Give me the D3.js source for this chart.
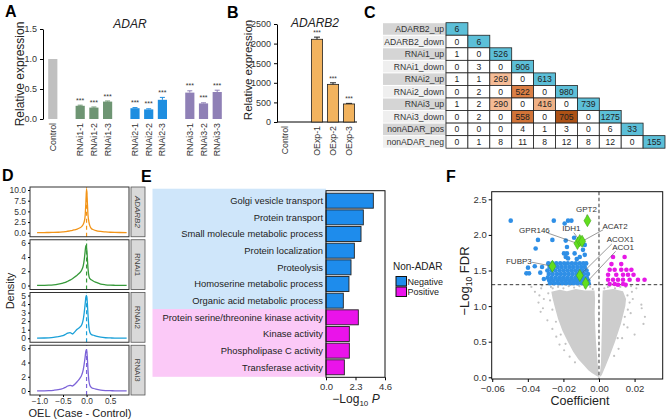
<!DOCTYPE html>
<html><head><meta charset="utf-8">
<script src="https://cdn.jsdelivr.net/npm/d3@7"></script>
<style>
body{margin:0;background:#fff;}
svg{font-family:"Liberation Sans",Arial,Helvetica,sans-serif;}
</style></head><body>
<svg id="fig" width="669" height="419"></svg>
<script>
// ---------------- DATA ----------------
// Panel A
const adarCats = ["Control","RNAi1-1","RNAi1-2","RNAi1-3","RNAi2-1","RNAi2-2","RNAi2-3","RNAi3-1","RNAi3-2","RNAi3-3"];
const adarVals = [1.0,0.22,0.19,0.29,0.18,0.16,0.32,0.44,0.26,0.45];
const adarErr  = [0,0.01,0.01,0.01,0.01,0.01,0.04,0.03,0.01,0.03];
const adarGroup = ["Control","RNAi1","RNAi1","RNAi1","RNAi2","RNAi2","RNAi2","RNAi3","RNAi3","RNAi3"];
const adarSig = ["","***","***","***","***","***","***","***","***","***"];
const adarTicks = [0,0.5,1.0,1.5];
// Panel B
const b2Cats = ["Control","OExp-1","OExp-2","OExp-3"];
const b2Vals = [1,2110,960,460];
const b2Err  = [0,55,40,15];
const b2Sig  = ["","***","***","***"];
const b2Ticks = [0,500,1000,1500,2000,2500];
// Panel C
const ovLabels = ["ADARB2_up","ADARB2_down","RNAi1_up","RNAi1_down","RNAi2_up","RNAi2_down","RNAi3_up","RNAi3_down","nonADAR_pos","nonADAR_neg"];
const ovMatrix = [
  [6],
  [0,6],
  [1,0,526],
  [0,3,0,906],
  [1,1,269,0,613],
  [0,2,0,522,0,980],
  [1,2,290,0,416,0,739],
  [0,2,0,558,0,705,0,1275],
  [0,0,0,4,1,3,0,6,33],
  [0,1,8,11,8,12,8,12,0,155]
];
// Panel D
const oelGroups = ["ADARB2","RNAi1","RNAi2","RNAi3"];
const oelX = [-1.05,-0.9,-0.8,-0.7,-0.6,-0.5,-0.45,-0.4,-0.35,-0.3,-0.25,-0.2,-0.15,-0.1,-0.07,-0.05,-0.03,-0.015,0,0.015,0.03,0.05,0.07,0.1,0.15,0.2,0.3,0.4,0.5,0.6,0.7,0.85];
const oelADARB2 = [0.05,0.05,0.06,0.08,0.12,0.2,0.25,0.35,0.45,0.55,0.7,0.85,1.1,1.5,2.0,2.6,4.0,7.0,10.3,7.5,4.2,2.5,1.6,1.0,0.7,0.5,0.3,0.2,0.12,0.08,0.06,0.05];
const oelRNAi1  = [0.02,0.03,0.05,0.1,0.2,0.35,0.45,0.6,0.75,0.95,1.2,1.45,1.75,2.2,2.8,3.6,4.8,5.6,5.3,4.0,2.4,1.3,0.95,0.8,0.6,0.45,0.2,0.1,0.05,0.03,0.02,0.02];
const oelRNAi2  = [0.02,0.03,0.05,0.1,0.2,0.3,0.45,0.6,0.65,0.5,0.75,1.05,1.25,1.6,2.2,3.0,4.0,4.8,5.0,4.2,2.8,1.3,0.7,0.45,0.35,0.25,0.12,0.06,0.04,0.02,0.02,0.02];
const oelRNAi3  = [0.02,0.03,0.05,0.1,0.18,0.35,0.5,0.7,0.8,0.7,0.95,1.3,1.7,2.3,3.0,3.8,4.8,5.6,5.8,4.8,3.0,1.4,0.8,0.5,0.35,0.25,0.12,0.06,0.04,0.03,0.02,0.02];
const oelTicks = [[0,2.5,5,7.5,10],[0,2,4,6],[0,1,2,3,4,5],[0,2,4,6]];
const oelXTicks = [-1.0,-0.5,0.0,0.5];
// Panel E
const goTerms = ["Golgi vesicle transport","Protein transport","Small molecule metabolic process","Protein localization","Proteolysis","Homoserine metabolic process","Organic acid metabolic process","Protein serine/threonine kinase activity","Kinase activity","Phospholipase C activity","Transferase activity"];
const goVals = [3.69,2.91,2.73,2.21,1.95,1.79,1.35,2.52,1.82,1.82,1.43];
const goType = ["Negative","Negative","Negative","Negative","Negative","Negative","Negative","Positive","Positive","Positive","Positive"];
const goTicks = [0,2.3,4.6];
// Panel F
const negPts = [
 [-0.0496,2.20],[-0.0254,2.20],[-0.0174,2.20],[-0.0155,2.20],[-0.0193,2.16],
 [-0.0343,1.93],[-0.0262,1.93],[-0.0187,1.92],[-0.0140,1.96],[-0.0180,1.83],[-0.0356,1.81],
 [-0.0090,1.79],[-0.0080,1.86],[-0.0197,1.74],[-0.0180,1.74],[-0.0137,1.74],[-0.0080,1.72],
 [-0.0187,1.69],[-0.0108,1.69],[-0.0174,1.67],[-0.0125,1.66],
 [-0.0399,1.54],[-0.0408,1.46],[-0.0393,1.46],[-0.0361,1.56],[-0.0330,1.47],[-0.0310,1.38],[-0.0320,1.55],
 [-0.0285,1.60],[-0.0262,1.60],[-0.0240,1.60],[-0.0218,1.60],[-0.0196,1.60],[-0.0175,1.60],[-0.0152,1.60],[-0.0130,1.60],[-0.0108,1.60],[-0.0088,1.60],[-0.0072,1.60],
 [-0.0278,1.55],[-0.0255,1.55],[-0.0232,1.55],[-0.0210,1.55],[-0.0188,1.55],[-0.0166,1.55],[-0.0145,1.55],[-0.0122,1.55],[-0.0100,1.55],[-0.0080,1.55],
 [-0.0290,1.50],[-0.0268,1.50],[-0.0245,1.50],[-0.0222,1.50],[-0.0200,1.50],[-0.0178,1.50],[-0.0156,1.50],[-0.0134,1.50],[-0.0112,1.50],[-0.0092,1.50],[-0.0070,1.50],
 [-0.0282,1.45],[-0.0260,1.45],[-0.0236,1.45],[-0.0214,1.45],[-0.0192,1.45],[-0.0170,1.45],[-0.0148,1.45],[-0.0126,1.45],[-0.0104,1.45],[-0.0084,1.45],[-0.0062,1.45],
 [-0.0288,1.40],[-0.0266,1.40],[-0.0243,1.40],[-0.0220,1.40],[-0.0198,1.40],[-0.0176,1.40],[-0.0154,1.40],[-0.0132,1.40],[-0.0110,1.40],[-0.0090,1.40],[-0.0068,1.40],
 [-0.0280,1.36],[-0.0258,1.36],[-0.0234,1.36],[-0.0212,1.36],[-0.0190,1.36],[-0.0168,1.36],[-0.0146,1.36],[-0.0124,1.36],[-0.0102,1.36],[-0.0082,1.36],[-0.0060,1.36],
 [-0.0275,1.32],[-0.0252,1.32],[-0.0230,1.32],[-0.0207,1.32],[-0.0185,1.32],[-0.0163,1.32],[-0.0141,1.32],[-0.0119,1.32],[-0.0097,1.32],[-0.0077,1.32],[-0.0058,1.32]
];
const posPts = [
 [0.0079,1.69],[0.0144,1.69],[0.0070,1.59],[0.0125,1.59],
 [0.0060,1.51],[0.0088,1.51],[0.0125,1.51],[0.0154,1.51],[0.0182,1.51],
 [0.0051,1.44],[0.0097,1.44],[0.0135,1.44],[0.0163,1.44],[0.0194,1.44],
 [0.0051,1.37],[0.0079,1.37],[0.0107,1.37],[0.0135,1.37],[0.0172,1.37],[0.0219,1.37],[0.0256,1.37],
 [0.0060,1.31],[0.0088,1.31],[0.0107,1.30],[0.0135,1.31],[0.0150,1.30]
];
const hitGenes = ["GPT2","GPR146","IDH1","ACAT2","FUBP3","ACOX1","ACO1"];
const hitX = [-0.0065,-0.0121,-0.0108,-0.0095,-0.0262,-0.0108,-0.0075];
const hitY = [2.20,1.88,1.92,1.91,1.56,1.43,1.32];
const grayLeft = [[0,0],[-0.002,0.03],[-0.004,0.06],[-0.006,0.10],[-0.0085,0.17],[-0.0115,0.25],[-0.0145,0.36],[-0.0175,0.5],[-0.0205,0.65],[-0.023,0.82],[-0.025,1.0],[-0.0262,1.12],[-0.0268,1.2],
 [-0.022,1.23],[-0.018,1.21],[-0.013,1.24],[-0.008,1.22],[-0.0025,1.22],[-0.0022,1.1],[-0.0024,0.9],[-0.0021,0.7],[-0.0017,0.5],[-0.0011,0.3],[-0.0005,0.12],[0,0]];
const grayRight = [[0.0003,0],[0.0011,0.2],[0.0014,0.5],[0.0017,0.8],[0.0019,1.1],[0.0021,1.22],[0.008,1.24],[0.0135,1.21],[0.0152,1.1],[0.0148,1.0],[0.0123,0.75],[0.009,0.5],[0.006,0.3],[0.0036,0.15],[0.0015,0.03]];
const grayPts = [[-0.0328,0.92],[-0.0315,0.97],[-0.0340,1.05],[-0.0335,1.15],[-0.0325,1.25],[-0.0360,1.20],[-0.0380,1.27],[-0.0290,0.80],[-0.0262,0.68],[-0.0240,0.57],[-0.0222,0.46],[-0.0196,0.38],[-0.0165,0.29],[-0.0135,0.21],[-0.0310,1.10],[-0.0320,1.29],[-0.0270,1.27],
 [0.0238,1.02],[0.0240,0.97],[0.0258,0.85],[0.0250,0.75],[0.0190,1.10],[0.0185,1.20],[0.0210,1.25],[0.0178,0.90],[0.0160,0.70],[0.0130,0.55],[0.0110,0.40],[0.0085,0.30],[0.0200,0.60],[0.0180,1.28],[0.0050,1.27],[0.0100,1.29],[0.0150,1.27],[0.0172,1.05],[0.0145,0.85],
 [-0.0260,1.25],[-0.0230,1.27],[-0.0200,1.25],[-0.0170,1.28],[-0.0140,1.26],[-0.0110,1.28],[-0.0080,1.26],[-0.0050,1.27],[-0.0035,1.24],[0.0030,1.25],[0.0060,1.28],[0.0090,1.25],[0.0120,1.27],
 [-0.0285,1.18],[-0.0275,1.08],[-0.0262,0.95],[-0.0242,0.78],[-0.0215,0.60],[-0.0188,0.47],[0.0160,1.15],[0.0162,0.95],[0.0140,0.74],[0.0105,0.55]];

// ---------------- DRAW ----------------
const svg = d3.select("#fig");
const TXT = "#333";

function styleAxis(g, fs){
  g.selectAll("path.domain").attr("stroke","#000").attr("stroke-width",1);
  g.selectAll(".tick line").attr("stroke","#000");
  g.selectAll(".tick text").attr("font-size",fs).attr("fill",TXT).attr("font-family",null);
}
function panelLabel(t,x,y){ svg.append("text").attr("x",x).attr("y",y).attr("font-size",16).attr("font-weight","bold").text(t); }
panelLabel("A",5,17); panelLabel("B",227,18); panelLabel("C",364,18);
panelLabel("D",2,181); panelLabel("E",141,182); panelLabel("F",446,182);

// ----- Panel A -----
const aSlots = ["Control","_s1","RNAi1-1","RNAi1-2","RNAi1-3","_s2","RNAi2-1","RNAi2-2","RNAi2-3","_s3","RNAi3-1","RNAi3-2","RNAi3-3"];
const ax = d3.scaleBand().domain(aSlots).range([46,224]).paddingInner(0.33).paddingOuter(0.16);
const ay = d3.scaleLinear().domain([0,1.5]).range([119,29]);
const aColor = d3.scaleOrdinal().domain(["Control","RNAi1","RNAi2","RNAi3"]).range(["#c0c0c0","#6e9573","#1e8ee0","#8f80b6"]);
const gA = svg.append("g");
gA.append("g").attr("transform","translate(43,0)")
  .call(d3.axisLeft(ay).tickValues(adarTicks).tickFormat(d3.format(".1f")).tickSize(3).tickSizeOuter(0))
  .call(g=>styleAxis(g,9));
adarCats.forEach((c,i)=>{
  const x0 = ax(c), w = ax.bandwidth(), col = aColor(adarGroup[i]);
  gA.append("rect").attr("x",x0).attr("y",ay(adarVals[i])).attr("width",w).attr("height",ay(0)-ay(adarVals[i])).attr("fill",col);
  if(adarErr[i]>0){
    const cx = x0+w/2;
    gA.append("line").attr("x1",cx).attr("x2",cx).attr("y1",ay(adarVals[i])).attr("y2",ay(adarVals[i]+adarErr[i])).attr("stroke",col).attr("stroke-width",1);
    gA.append("line").attr("x1",cx-2.5).attr("x2",cx+2.5).attr("y1",ay(adarVals[i]+adarErr[i])).attr("y2",ay(adarVals[i]+adarErr[i])).attr("stroke",col).attr("stroke-width",1);
  }
  gA.append("text").attr("x",x0+w/2).attr("y",ay(adarVals[i]+adarErr[i])-2.5).attr("text-anchor","middle").attr("font-size",7).attr("fill",TXT).text(adarSig[i]);
  gA.append("text").attr("transform",`translate(${x0+w/2+3},123) rotate(-90)`).attr("text-anchor","end").attr("font-size",8.8).attr("fill",TXT).text(c);
});
gA.append("text").attr("x",130).attr("y",28).attr("text-anchor","middle").attr("font-size",12).attr("font-style","italic").attr("fill","#222").text("ADAR");
gA.append("text").attr("transform","translate(24,74) rotate(-90)").attr("text-anchor","middle").attr("font-size",12).attr("fill","#222").text("Relative expression");

// ----- Panel B -----
const bSlots = ["Control","_s1","OExp-1","OExp-2","OExp-3"];
const bx = d3.scaleBand().domain(bSlots).range([277,357]).paddingInner(0.3).paddingOuter(0.15);
const by = d3.scaleLinear().domain([0,2500]).range([122,24]);
const gB = svg.append("g");
gB.append("g").attr("transform","translate(277,0)")
  .call(d3.axisLeft(by).tickValues(b2Ticks).tickFormat(d3.format("d")).tickSize(3).tickSizeOuter(0))
  .call(g=>styleAxis(g,9));
gB.append("line").attr("x1",277).attr("x2",357).attr("y1",by(0)).attr("y2",by(0)).attr("stroke","#000");
b2Cats.forEach((c,i)=>{
  const x0 = bx(c), w = bx.bandwidth(), cx = x0+w/2;
  if(b2Vals[i]>10){
    gB.append("rect").attr("x",x0).attr("y",by(b2Vals[i])).attr("width",w).attr("height",by(0)-by(b2Vals[i])).attr("fill","#f2b35e").attr("stroke","#222").attr("stroke-width",0.8);
    gB.append("line").attr("x1",cx).attr("x2",cx).attr("y1",by(b2Vals[i])).attr("y2",by(b2Vals[i]+b2Err[i])).attr("stroke","#222");
    gB.append("line").attr("x1",cx-3).attr("x2",cx+3).attr("y1",by(b2Vals[i]+b2Err[i])).attr("y2",by(b2Vals[i]+b2Err[i])).attr("stroke","#222");
  }
  gB.append("text").attr("x",cx).attr("y",by(b2Vals[i]+b2Err[i])-2).attr("text-anchor","middle").attr("font-size",6.5).attr("fill",TXT).text(b2Sig[i]);
  gB.append("text").attr("transform",`translate(${cx+3},126) rotate(-90)`).attr("text-anchor","end").attr("font-size",8.8).attr("fill",TXT).text(c);
});
gB.append("text").attr("x",315).attr("y",26.5).attr("text-anchor","middle").attr("font-size",12).attr("font-style","italic").attr("fill","#222").text("ADARB2");
gB.append("text").attr("transform","translate(252,70) rotate(-90)").attr("text-anchor","middle").attr("font-size",11.5).attr("fill","#222").text("Relative expression");

// ----- Panel C -----
const cRow = d3.scaleBand().domain(ovLabels).range([22.7,148.2]);
const cCol = d3.scaleBand().domain(ovLabels).range([446,665]);
const orange = d3.scaleLinear().domain([260,450,530,705]).range(["#f5bd98","#efae82","#d97a3e","#ad5216"]);
const gC = svg.append("g");
ovLabels.forEach((lab,i)=>{
  const y0 = cRow(lab), h = cRow.bandwidth();
  gC.append("rect").attr("x",383).attr("y",y0+0.5).attr("width",63).attr("height",h-1).attr("fill", i%2===0 ? "#d5d5d5" : "#efefef");
  gC.append("text").attr("x",444).attr("y",y0+h/2).attr("dy","0.35em").attr("text-anchor","end").attr("font-size",8.6).attr("fill",TXT).text(lab);
  ovMatrix[i].forEach((v,j)=>{
    const x0 = cCol(ovLabels[j]);
    let fill = "#ffffff";
    if(i===j) fill = "#5cbfd8";
    else if(v>=200) fill = orange(v);
    gC.append("rect").attr("x",x0).attr("y",y0).attr("width",cCol.bandwidth()).attr("height",h).attr("fill",fill).attr("stroke","#222").attr("stroke-width",0.8);
    gC.append("text").attr("x",x0+cCol.bandwidth()/2).attr("y",y0+h/2).attr("dy","0.35em").attr("text-anchor","middle").attr("font-size",8.6).attr("fill","#222").text(v);
  });
});

// ----- Panel D -----
const oelY = [oelADARB2,oelRNAi1,oelRNAi2,oelRNAi3];
const oelColors = ["#f29418","#36993a","#1aa0d8","#7c63d8"];
const dTop=187, dBot=395, dGap=3, dH=(dBot-dTop-3*dGap)/4;
const dx = d3.scaleLinear().domain([-1.2,0.9]).range([30,129]);
const gD = svg.append("g");
oelGroups.forEach((grp,i)=>{
  const top = dTop + i*(dH+dGap), bot = top+dH;
  const ticks = oelTicks[i];
  const y = d3.scaleLinear().domain([0,ticks[ticks.length-1]]).range([bot-4, top+3]);
  const clipId = "dclip"+i;
  gD.append("clipPath").attr("id",clipId).append("rect").attr("x",30).attr("y",top).attr("width",99).attr("height",dH);
  const pts = oelX.map((xv,k)=>[xv,oelY[i][k]]);
  gD.append("path").attr("clip-path",`url(#${clipId})`).attr("d", d3.line().x(d=>dx(d[0])).y(d=>y(d[1])).curve(d3.curveMonotoneX)(pts))
    .attr("fill","none").attr("stroke",oelColors[i]).attr("stroke-width",1.3);
  gD.append("line").attr("x1",dx(0)).attr("x2",dx(0)).attr("y1",bot).attr("y2",top).attr("stroke",oelColors[i]).attr("stroke-width",1.2).attr("stroke-dasharray","4,3");
  gD.append("rect").attr("x",30).attr("y",top).attr("width",99).attr("height",dH).attr("fill","none").attr("stroke","#333").attr("stroke-width",1);
  gD.append("g").attr("transform","translate(30,0)")
    .call(d3.axisLeft(y).tickValues(ticks).tickFormat(i===0?d3.format(".1f"):d3.format("d")).tickSize(2).tickPadding(2).tickSizeOuter(0))
    .call(g=>{ g.select("path.domain").remove(); styleAxis(g,8.5); });
  gD.append("rect").attr("x",131).attr("y",top).attr("width",14).attr("height",dH).attr("fill","#d9d9d9").attr("stroke","#555").attr("stroke-width",0.8);
  gD.append("text").attr("transform",`translate(${138},${(top+bot)/2}) rotate(90)`).attr("text-anchor","middle").attr("dy","0.35em")
    .attr("font-size",8).attr("fill","#444").attr("font-style", i===0?"italic":"normal").text(grp);
  if(i===3){
    gD.append("g").attr("transform",`translate(0,${bot})`)
      .call(d3.axisBottom(dx).tickValues(oelXTicks).tickFormat(d3.format(".1f")).tickSize(2).tickPadding(1).tickSizeOuter(0))
      .call(g=>{ g.select("path.domain").remove(); styleAxis(g,8.3); });
  }
});
gD.append("text").attr("transform","translate(14,291) rotate(-90)").attr("text-anchor","middle").attr("font-size",11).attr("fill","#222").text("Density");
gD.append("text").attr("x",80).attr("y",417).attr("text-anchor","middle").attr("font-size",11).attr("fill","#222").text("OEL (Case - Control)");

// ----- Panel E -----
const eTop = 190.7, eBot = 377.3;
const ey = d3.scaleBand().domain(goTerms).range([eTop,eBot]).paddingInner(0.1).paddingOuter(0.15);
const ex = d3.scaleLinear().domain([0,4.6]).range([326,385]);
const eColor = d3.scaleOrdinal().domain(["Negative","Positive"]).range(["#1e8cec","#ea13ea"]);
const gE = svg.append("g");
const split = (ey(goTerms[6])+ey.bandwidth()+ey(goTerms[7]))/2;
gE.append("rect").attr("x",152.5).attr("y",eTop-2).attr("width",326-152.5).attr("height",split-eTop+2).attr("fill","#cfe6fa");
gE.append("rect").attr("x",152.5).attr("y",split).attr("width",326-152.5).attr("height",eBot-split-0.5).attr("fill","#fbc9f7");
goTerms.forEach((t,i)=>{
  gE.append("rect").attr("x",ex(0)).attr("y",ey(t)).attr("width",ex(goVals[i])-ex(0)).attr("height",ey.bandwidth())
    .attr("fill",eColor(goType[i])).attr("stroke","#222").attr("stroke-width",0.9);
  gE.append("text").attr("x",323).attr("y",ey(t)+ey.bandwidth()/2).attr("dy","0.35em").attr("text-anchor","end").attr("font-size",9.4).attr("fill","#222").text(t);
});
gE.append("rect").attr("x",326).attr("y",eTop).attr("width",59).attr("height",eBot-eTop).attr("fill","none").attr("stroke","#111").attr("stroke-width",1);
gE.append("g").attr("transform",`translate(0,${eBot})`)
  .call(d3.axisBottom(ex).tickValues(goTicks).tickFormat(d3.format(".1f")).tickSize(3).tickSizeOuter(0))
  .call(g=>{ g.select("path.domain").remove(); styleAxis(g,9.5); });
const eXT = gE.append("text").attr("x",356).attr("y",403).attr("text-anchor","middle").attr("font-size",12).attr("fill","#222");
eXT.append("tspan").text("\u2212Log");
eXT.append("tspan").attr("font-size",8).attr("dy",3).text("10");
eXT.append("tspan").attr("dy",-3).text(" ");
eXT.append("tspan").attr("font-style","italic").text("P");
// legend
gE.append("text").attr("x",393).attr("y",270).attr("font-size",10).attr("fill","#222").text("Non-ADAR");
["Negative","Positive"].forEach((k,i)=>{
  const yy = 276.5 + i*10.5;
  gE.append("rect").attr("x",396).attr("y",yy).attr("width",10.5).attr("height",9.5).attr("fill",eColor(k)).attr("stroke","#111").attr("stroke-width",1);
  gE.append("text").attr("x",407.5).attr("y",yy+4.9).attr("dy","0.35em").attr("font-size",9).attr("fill","#222").text(k);
});

// ----- Panel F -----
const fx = d3.scaleLinear().domain([-0.0603,0.0358]).range([491.7,662.7]);
const fy = d3.scaleLinear().domain([-0.024,2.607]).range([379,191.7]);
const gF = svg.append("g");
gF.append("clipPath").attr("id","fclip").append("rect").attr("x",491.7).attr("y",191.7).attr("width",171).attr("height",187.3);
const gFp = gF.append("g").attr("clip-path","url(#fclip)");
const poly = d3.line().x(d=>fx(d[0])).y(d=>fy(d[1]));
gFp.append("path").attr("d",poly(grayLeft)+"Z").attr("fill","#cdcdcd");
gFp.append("path").attr("d",poly(grayRight)+"Z").attr("fill","#cdcdcd");
gFp.selectAll("circle.gray").data(grayPts).enter().append("circle").attr("class","gray")
  .attr("cx",d=>fx(d[0])).attr("cy",d=>fy(d[1])).attr("r",1.1).attr("fill","#c2c2c2");
gFp.append("line").attr("x1",fx(0)).attr("x2",fx(0)).attr("y1",191.7).attr("y2",379).attr("stroke","#222").attr("stroke-width",0.9).attr("stroke-dasharray","3.5,2.5");
gFp.append("line").attr("x1",491.7).attr("x2",662.7).attr("y1",fy(1.301)).attr("y2",fy(1.301)).attr("stroke","#222").attr("stroke-width",0.9).attr("stroke-dasharray","3.5,2.5");
gFp.selectAll("circle.neg").data(negPts).enter().append("circle").attr("class","neg")
  .attr("cx",d=>fx(d[0])).attr("cy",d=>fy(d[1])).attr("r",2.3).attr("fill","#2f8fe6");
gFp.selectAll("circle.pos").data(posPts).enter().append("circle").attr("class","pos")
  .attr("cx",d=>fx(d[0])).attr("cy",d=>fy(d[1])).attr("r",2.3).attr("fill","#e619e6");
// label layout (pixel offsets relative to point): [labelDx, labelDy, lineDx, lineDy]
const hitLayout = {GPT2:[-1,-11,-0.5,-6],GPR146:[-43,-13,-30,-10.5],IDH1:[-8.5,-12.5,-6,-8],ACAT2:[33,-15,21,-11.5],FUBP3:[-33.5,-5,-20.5,-4],ACOX1:[40.5,-36,32,-31.5],ACO1:[37.5,-36,30,-32]};
hitGenes.forEach((g,i)=>{
  const px = fx(hitX[i]), py = fy(hitY[i]), L = hitLayout[g];
  gF.append("line").attr("x1",px+L[2]).attr("y1",py+L[3]).attr("x2",px).attr("y2",py).attr("stroke","#555").attr("stroke-width",0.6);
});
hitGenes.forEach((g,i)=>{
  const px = fx(hitX[i]), py = fy(hitY[i]);
  gF.append("path").attr("transform",`translate(${px},${py})`).attr("d",d3.symbol(d3.symbolDiamond).size(42)())
    .attr("fill","#62de1e").attr("stroke","#3fa815").attr("stroke-width",0.6);
});
hitGenes.forEach((g,i)=>{
  const px = fx(hitX[i]), py = fy(hitY[i]), L = hitLayout[g];
  gF.append("text").attr("x",px+L[0]).attr("y",py+L[1]).attr("dy","0.35em").attr("text-anchor","middle").attr("font-size",8).attr("fill","#333").text(g);
});
gF.append("rect").attr("x",491.7).attr("y",191.7).attr("width",171).attr("height",187.3).attr("fill","none").attr("stroke","#111").attr("stroke-width",1);
gF.append("g").attr("transform","translate(491.7,0)")
  .call(d3.axisLeft(fy).tickValues([0,0.5,1,1.5,2,2.5]).tickFormat(d3.format(".1f")).tickSize(3).tickPadding(2).tickSizeOuter(0))
  .call(g=>{ g.select("path.domain").remove(); styleAxis(g,9.5); });
gF.append("g").attr("transform","translate(0,379)")
  .call(d3.axisBottom(fx).tickValues([-0.06,-0.04,-0.02,0,0.02]).tickFormat(d3.format(".2f")).tickSize(3).tickSizeOuter(0))
  .call(g=>{ g.select("path.domain").remove(); styleAxis(g,9.5); });
const fYT = gF.append("text").attr("transform","translate(469,281) rotate(-90)").attr("text-anchor","middle").attr("font-size",13).attr("fill","#222");
fYT.append("tspan").text("\u2212Log");
fYT.append("tspan").attr("font-size",8.5).attr("dy",3).text("10");
fYT.append("tspan").attr("dy",-3).text(" FDR");
gF.append("text").attr("x",580).attr("y",405).attr("text-anchor","middle").attr("font-size",12.5).attr("fill","#222").text("Coefficient");
</script>
</body></html>
